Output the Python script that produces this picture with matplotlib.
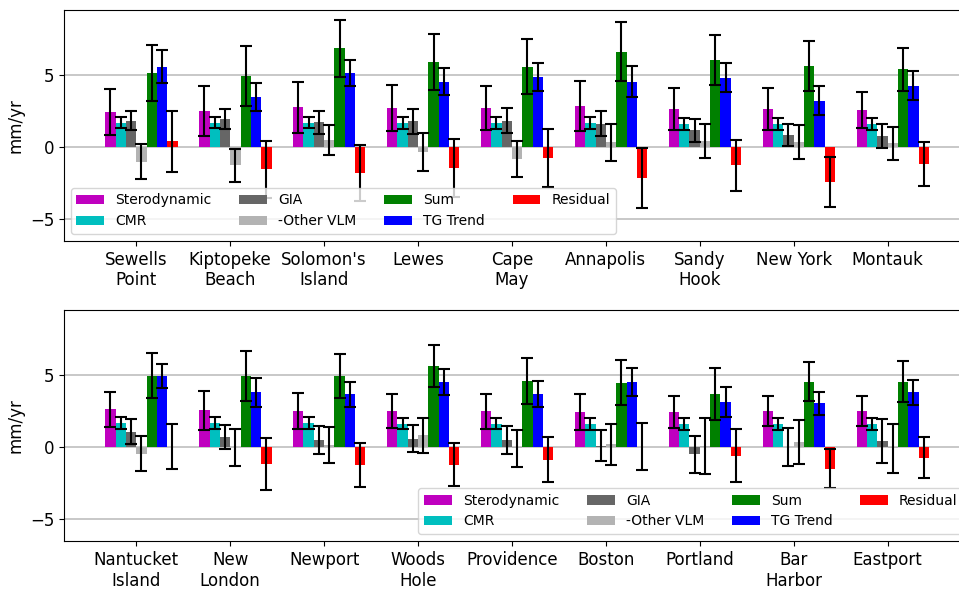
import matplotlib
matplotlib.use("Agg")
import matplotlib.pyplot as plt
import numpy as np

# station names for each panel
stations_top = ["Sewells\nPoint", "Kiptopeke\nBeach", "Solomon's\nIsland", "Lewes", "Cape\nMay",
                "Annapolis", "Sandy\nHook", "New York", "Montauk"]
stations_bot = ["Nantucket\nIsland", "New\nLondon", "Newport", "Woods\nHole", "Providence",
                "Boston", "Portland", "Bar\nHarbor", "Eastport"]

# component names and colors
labels = ["Sterodynamic", "CMR", "GIA", "-Other VLM", "Sum", "TG Trend", "Residual"]
colors = ["m", "c", "0.4", "0.7", "g", "b", "r"]

# top panel values (mm/yr) and errors
stero_top = [2.45, 2.5, 2.75, 2.71, 2.71, 2.85, 2.64, 2.64, 2.57]
stero_err_top = [1.58, 1.74, 1.76, 1.56, 1.55, 1.76, 1.44, 1.44, 1.24]
cmr_top = [1.69, 1.69, 1.69, 1.67, 1.67, 1.67, 1.62, 1.62, 1.60]
cmr_err_top = [0.37, 0.37, 0.37, 0.39, 0.39, 0.39, 0.41, 0.41, 0.43]
gia_top = [1.83, 1.94, 1.71, 1.78, 1.83, 1.62, 1.18, 0.83, 0.76]
gia_err_top = [0.66, 0.72, 0.82, 0.85, 0.85, 0.87, 0.80, 0.74, 0.82]
vlm_top = [-1.02, -1.25, 0.51, -0.35, -0.81, 0.32, 0.42, 0.35, 0.25]
vlm_err_top = [1.22, 1.15, 1.04, 1.32, 1.24, 1.25, 1.15, 1.15, 1.11]
sum_top = [5.12, 4.93, 6.85, 5.93, 5.56, 6.62, 6.04, 5.63, 5.39]
sum_err_top = [1.95, 2.06, 1.98, 1.94, 1.91, 2.04, 1.74, 1.72, 1.49]
tg_top = [5.58, 3.47, 5.12, 4.54, 4.84, 4.54, 4.81, 3.22, 4.26]
tg_err_top = [1.15, 1.0, 0.9, 0.95, 0.97, 1.05, 1.0, 1.03, 0.98]
res_top = [0.39, -1.55, -1.78, -1.46, -0.76, -2.15, -1.25, -2.43, -1.16]
res_err_top = [2.1, 2.0, 1.94, 1.99, 1.98, 2.08, 1.77, 1.74, 1.54]

# bottom panel values (mm/yr) and errors
stero_bot = [2.62, 2.55, 2.5, 2.5, 2.5, 2.41, 2.45, 2.5, 2.5]
stero_err_bot = [1.19, 1.37, 1.23, 1.17, 1.22, 1.25, 1.12, 1.06, 1.06]
cmr_bot = [1.67, 1.67, 1.67, 1.64, 1.64, 1.62, 1.6, 1.6, 1.6]
cmr_err_bot = [0.39, 0.39, 0.39, 0.39, 0.39, 0.41, 0.42, 0.42, 0.42]
gia_bot = [1.06, 0.72, 0.49, 0.6, 0.49, 0.1, -0.49, 0.03, 0.42]
gia_err_bot = [0.86, 0.82, 0.96, 0.95, 0.96, 1.06, 1.3, 1.33, 1.5]
vlm_bot = [-0.44, -0.02, 0.16, 0.83, -0.08, 0.2, 0.1, 0.37, -0.07]
vlm_err_bot = [1.24, 1.31, 1.25, 1.22, 1.27, 1.4, 1.93, 1.54, 1.71]
sum_bot = [4.95, 4.95, 4.93, 5.65, 4.56, 4.47, 3.68, 4.54, 4.54]
sum_err_bot = [1.57, 1.74, 1.54, 1.45, 1.6, 1.57, 1.82, 1.34, 1.41]
tg_bot = [4.95, 3.8, 3.66, 4.51, 3.68, 4.54, 3.1, 3.03, 3.8]
tg_err_bot = [0.85, 1.0, 0.89, 0.9, 0.9, 0.96, 1.04, 0.81, 0.86]
res_bot = [0.03, -1.16, -1.23, -1.2, -0.86, 0.03, -0.58, -1.48, -0.72]
res_err_bot = [1.57, 1.8, 1.5, 1.48, 1.57, 1.64, 1.86, 1.33, 1.41]


def draw_panel(ax, names, values, errors, legend_loc):
    x = np.arange(len(names))
    width = 0.11
    for i in range(len(labels)):
        ax.bar(x + (i - 2.5) * width, values[i], width, yerr=errors[i], color=colors[i],
               label=labels[i], capsize=4, error_kw=dict(elinewidth=1.5, capthick=1.5, ecolor="k"))
    ax.set_xticks(x)
    ax.set_xticklabels(names, fontsize=12)
    ax.set_xlim(-0.77, 8.88)
    ax.set_ylim(-6.5, 9.5)
    ax.set_yticks([-5, 0, 5])
    ax.tick_params(axis="y", labelsize=12)
    ax.set_ylabel("mm/yr", fontsize=12)
    ax.yaxis.grid(True, color="0.75", linewidth=1.2)
    ax.set_axisbelow(True)
    ax.legend(loc=legend_loc, ncol=4, fontsize=10)


fig = plt.figure(figsize=(9.59, 5.89), dpi=100)
# axes run slightly past the right edge, like the cropped original
ax1 = fig.add_axes([0.0667, 0.591, 0.945, 0.392])
ax2 = fig.add_axes([0.0667, 0.0815, 0.945, 0.392])

draw_panel(ax1, stations_top,
           [stero_top, cmr_top, gia_top, vlm_top, sum_top, tg_top, res_top],
           [stero_err_top, cmr_err_top, gia_err_top, vlm_err_top, sum_err_top, tg_err_top, res_err_top],
           "lower left")
draw_panel(ax2, stations_bot,
           [stero_bot, cmr_bot, gia_bot, vlm_bot, sum_bot, tg_bot, res_bot],
           [stero_err_bot, cmr_err_bot, gia_err_bot, vlm_err_bot, sum_err_bot, tg_err_bot, res_err_bot],
           "lower right")

fig.savefig("out.png", dpi=100)
